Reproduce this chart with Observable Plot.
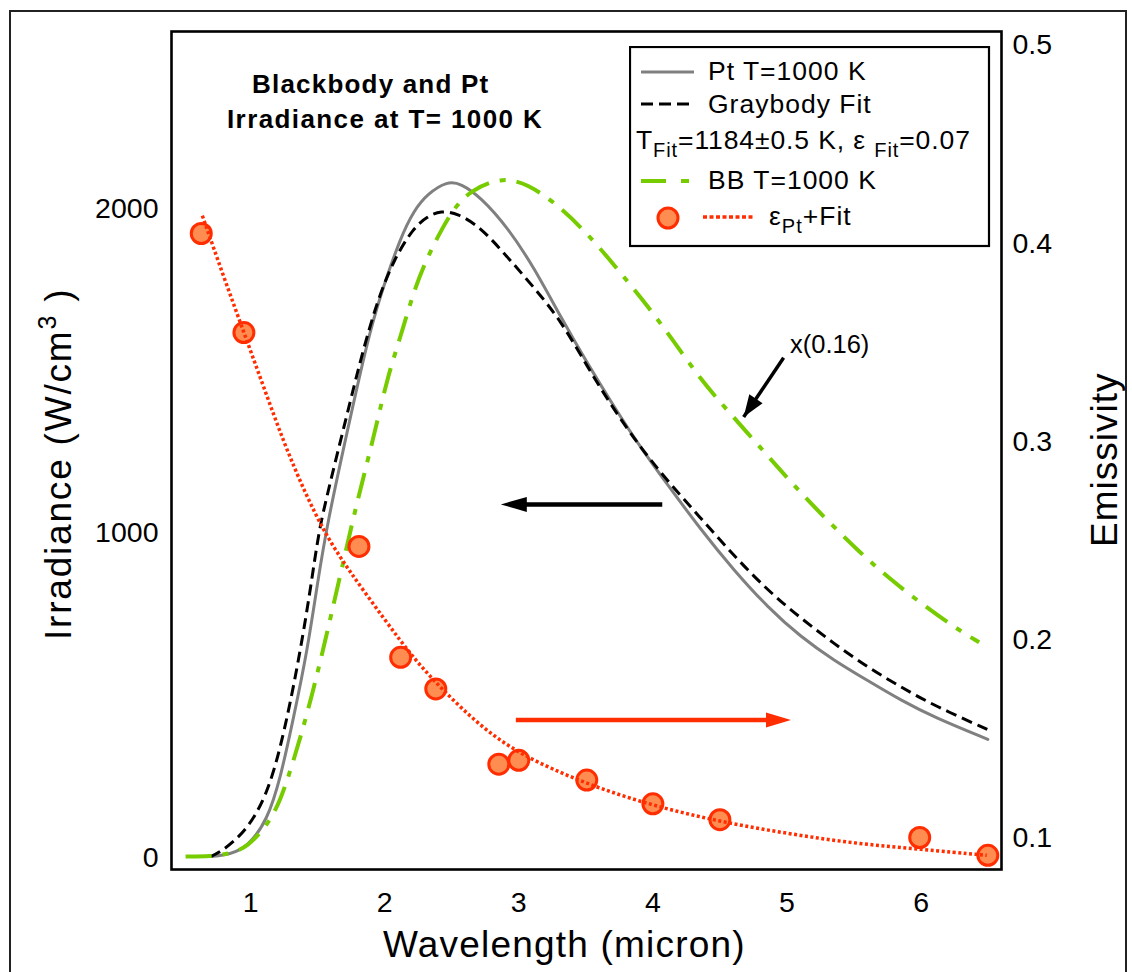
<!DOCTYPE html>
<html>
<head>
<meta charset="utf-8">
<script src="https://cdn.jsdelivr.net/npm/d3@7"></script>
<script src="https://cdn.jsdelivr.net/npm/@observablehq/plot@0.6"></script>
<style>
  body { margin: 0; background: #fff; }
  #wrap { position: relative; width: 1132px; height: 972px; overflow: hidden; background: #fff;
          font-family: "Liberation Sans", Arial, Helvetica, sans-serif; }
  #outer { position: absolute; left: 9px; top: 10px; width: 1114px; height: 1000px; border: 2px solid #222; }
  #chart { position: absolute; left: 0; top: 0; }
  #overlay, #legend { position: absolute; left: 0; top: 0; pointer-events: none; }
  #legend { left: 629px; top: 46px; }
  text { font-family: "Liberation Sans", Arial, Helvetica, sans-serif; }
</style>
</head>
<body>
<div id="wrap">
  <div id="outer"></div>
  <div id="chart"></div>
  <svg id="overlay" width="1132" height="972">
    <text x="252" y="93" font-size="26" font-weight="bold" letter-spacing="1.2">Blackbody and Pt</text>
    <text x="227" y="128" font-size="26" font-weight="bold" letter-spacing="1.4">Irradiance at T= 1000 K</text>
    <text x="383" y="957" font-size="37" letter-spacing="1.2">Wavelength (micron)</text>
    <text transform="translate(71,640) rotate(-90)" font-size="37" letter-spacing="1.8">Irradiance (W/cm<tspan dy="-15" font-size="25">3</tspan><tspan dy="15"> )</tspan></text>
    <text transform="translate(1117,547) rotate(-90)" font-size="37" letter-spacing="1">Emissivity</text>
    <text x="790" y="353" font-size="25.5">x(0.16)</text>
  </svg>
  <svg id="legend" width="362" height="202">
    <rect x="1" y="1" width="359" height="199" fill="#fff" stroke="#000" stroke-width="2.2"></rect>
    <line x1="12" x2="65" y1="26" y2="26" stroke="#808080" stroke-width="3"></line>
    <text x="79" y="34" font-size="26.5" letter-spacing="1">Pt T=1000 K</text>
    <line x1="12" x2="60" y1="58" y2="58" stroke="#000" stroke-width="3" stroke-dasharray="12,6"></line>
    <text x="79" y="67" font-size="26.5" letter-spacing="1">Graybody Fit</text>
    <text x="7" y="103" font-size="26.5" letter-spacing="0.9">T<tspan dy="8" font-size="20">Fit</tspan><tspan dy="-8">=1184±0.5 K, ε </tspan><tspan dy="8" font-size="20">Fit</tspan><tspan dy="-8">=0.07</tspan></text>
    <line x1="12" x2="60" y1="135" y2="135" stroke="#77cc00" stroke-width="4" stroke-dasharray="25,15,8,40"></line>
    <text x="79" y="143" font-size="26.5" letter-spacing="1">BB T=1000 K</text>
    <circle cx="39" cy="172" r="10" fill="#ff8c50" stroke="#ff2d00" stroke-width="3"></circle>
    <line x1="74" x2="126" y1="171" y2="171" stroke="#ff2d00" stroke-width="3.5" stroke-dasharray="4,2.5"></line>
    <text x="140" y="179" font-size="26.5" letter-spacing="1">ε<tspan dy="8" font-size="20">Pt</tspan><tspan dy="-8">+Fit</tspan></text>
  </svg>
</div>
<script>
// ---- Data ----
// Pt irradiance at T = 1000 K (W/cm^3) vs wavelength (micron)
const ptWavelength = [0.70, 0.85, 0.975, 1.125, 1.224, 1.321, 1.423, 1.498, 1.572, 1.722, 1.871, 1.970, 2.119, 2.219, 2.319, 2.468, 2.567, 2.716, 2.916, 3.112, 3.313, 3.513, 3.709, 3.910, 4.110, 4.358, 4.604, 4.856, 5.104, 5.351, 5.602, 5.851, 6.097, 6.498];
const ptIrradiance = [3, 10, 32, 114, 247, 432, 638, 844, 1030, 1316, 1593, 1735, 1912, 1994, 2045, 2084, 2077, 2035, 1942, 1819, 1665, 1521, 1390, 1262, 1148, 1010, 885, 771, 679, 607, 545, 484, 432, 364];

// Graybody fit
const fitWavelength = [0.70, 0.776, 0.975, 1.125, 1.224, 1.321, 1.423, 1.498, 1.545, 1.722, 1.833, 1.945, 2.070, 2.219, 2.319, 2.418, 2.543, 2.716, 2.916, 3.112, 3.313, 3.513, 3.709, 3.910, 4.110, 4.358, 4.604, 4.856, 5.104, 5.351, 5.602, 5.851, 6.097, 6.498];
const fitIrradiance = [3, 16, 83, 197, 340, 525, 761, 977, 1075, 1370, 1555, 1715, 1845, 1942, 1975, 1993, 1985, 1942, 1850, 1757, 1655, 1511, 1380, 1262, 1160, 1045, 930, 823, 737, 659, 586, 525, 468, 394];

// Blackbody T = 1000 K, scaled x(0.16)
const bbWavelength = [0.515, 0.701, 0.851, 0.975, 1.125, 1.224, 1.321, 1.423, 1.522, 1.597, 1.694, 1.784, 1.918, 2.020, 2.119, 2.216, 2.319, 2.418, 2.515, 2.642, 2.866, 3.065, 3.313, 3.560, 3.761, 3.960, 4.157, 4.358, 4.557, 4.856, 5.052, 5.304, 5.552, 5.751, 6.0, 6.246, 6.433];
const bbIrradiance = [3, 3, 12, 32, 99, 176, 299, 444, 607, 741, 915, 1079, 1295, 1480, 1605, 1745, 1850, 1930, 2000, 2056, 2096, 2077, 2004, 1901, 1800, 1700, 1590, 1472, 1377, 1238, 1146, 1037, 937, 864, 783, 710, 663];

// Pt emissivity measurements and fit
const emisWavelength = [0.632, 0.950, 1.808, 2.119, 2.381, 2.851, 3.0, 3.507, 4.0, 4.5, 5.99, 6.498];
const emisValue = [0.405, 0.355, 0.247, 0.191, 0.175, 0.137, 0.139, 0.129, 0.117, 0.109, 0.100, 0.091];
const emisFitWavelength = [0.64, 0.80, 0.95, 1.10, 1.25, 1.40, 1.55, 1.72, 2.00, 2.22, 2.44, 2.70, 3.00, 3.50, 4.00, 4.50, 5.00, 5.50, 6.00, 6.49];
const emisFitValue = [0.414, 0.383, 0.355, 0.327, 0.299, 0.275, 0.254, 0.236, 0.210, 0.190, 0.174, 0.157, 0.142, 0.127, 0.116, 0.108, 0.102, 0.097, 0.094, 0.091];

// Axis ticks
const xTicks = [1, 2, 3, 4, 5, 6];
const irrTicks = [0, 1000, 2000];
const emisTicks = [0.1, 0.2, 0.3, 0.4, 0.5];

// Annotation arrows (data coordinates, irradiance units)
const arrowX1 = [4.07, 2.978, 4.975];
const arrowX2 = [2.866, 5.03, 4.677];
const arrowY1 = [1088, 424, 1540];
const arrowY2 = [1088, 424, 1357];

// ---- Scales / mapping ----
const W = 1132, H = 972;
const mL = 171, mR = 131, mT = 31, mB = 103;
const xDomain = [0.41, 6.60];
const yDomain = [-37, 2545];
// secondary (emissivity) axis mapped onto the irradiance scale
const toIrr = e => 61.6 + (e - 0.1) * 6101.7;
const fromIrr = v => 0.1 + (v - 61.6) / 6101.7;

const sx = d3.scaleLinear(xDomain, [mL, W - mR]);
const sy = d3.scaleLinear(yDomain, [H - mB, mT]);
function angleOf(i) {
  const dx = sx(arrowX2[i]) - sx(arrowX1[i]);
  const dy = sy(arrowY2[i]) - sy(arrowY1[i]);
  return Math.atan2(dx, -dy) * 180 / Math.PI;
}
function head(L, w) {
  return { draw(ctx) { ctx.moveTo(0, 0); ctx.lineTo(w, L); ctx.lineTo(-w, L); ctx.closePath(); } };
}

const red = "#ff2d00";
const green = "#77cc00";

const plot = Plot.plot({
  width: W, height: H,
  marginLeft: mL, marginRight: mR, marginTop: mT, marginBottom: mB,
  style: { fontFamily: "Liberation Sans, Arial, Helvetica, sans-serif", fontSize: "28.5px", color: "#000", background: "transparent" },
  x: { domain: xDomain },
  y: { domain: yDomain },
  marks: [
    Plot.axisX({ ticks: xTicks, tickFormat: d => String(d), tickSize: 0, tickPadding: 22, label: null, fontSize: 28.5 }),
    Plot.axisY({ anchor: "left", ticks: irrTicks, tickFormat: d => String(d), tickSize: 0, tickPadding: 13, label: null, fontSize: 28.5 }),
    Plot.axisY({ anchor: "right", ticks: emisTicks.map(toIrr), tickFormat: v => fromIrr(v).toFixed(1), tickSize: 0, tickPadding: 11, label: null, fontSize: 28.5 }),
    Plot.line(ptIrradiance, { x: ptWavelength, y: ptIrradiance, stroke: "#808080", strokeWidth: 3, curve: "basis" }),
    Plot.line(fitIrradiance, { x: fitWavelength, y: fitIrradiance, stroke: "#000", strokeWidth: 3, strokeDasharray: "11,6", strokeLinecap: "butt", curve: "basis" }),
    Plot.line(bbIrradiance, { x: bbWavelength, y: bbIrradiance, stroke: green, strokeWidth: 4, strokeDasharray: "26,11,6,11", strokeLinecap: "butt", curve: "basis" }),
    Plot.dot(emisValue, { x: emisWavelength, y: emisValue.map(toIrr), r: 10, fill: "#ff8c50", stroke: red, strokeWidth: 3 }),
    Plot.line(emisFitValue, { x: emisFitWavelength, y: emisFitValue.map(toIrr), stroke: red, strokeWidth: 3.5, strokeDasharray: "3,2.5", strokeLinecap: "butt", curve: "basis" }),
    // arrows: shafts + filled heads
    Plot.link([0], { x1: d => arrowX1[d], y1: d => arrowY1[d], x2: d => arrowX2[d] + 0.1, y2: d => arrowY2[d], stroke: "#000", strokeWidth: 4.5 }),
    Plot.dot([0], { x: d => arrowX2[d], y: d => arrowY2[d], symbol: head(26, 7.5), r: 10, fill: "#000", stroke: "none", rotate: angleOf(0) }),
    Plot.link([1], { x1: d => arrowX1[d], y1: d => arrowY1[d], x2: d => arrowX2[d] - 0.1, y2: d => arrowY2[d], stroke: red, strokeWidth: 4.5 }),
    Plot.dot([1], { x: d => arrowX2[d], y: d => arrowY2[d], symbol: head(25, 7.5), r: 10, fill: red, stroke: "none", rotate: angleOf(1) }),
    Plot.link([2], { x1: d => arrowX1[d], y1: d => arrowY1[d], x2: d => arrowX2[d], y2: d => arrowY2[d], stroke: "#000", strokeWidth: 3.5 }),
    Plot.dot([2], { x: d => arrowX2[d], y: d => arrowY2[d], symbol: head(22, 8), r: 10, fill: "#000", stroke: "none", rotate: angleOf(2) }),
    Plot.frame({ stroke: "#000", strokeWidth: 2.6 })
  ]
});
document.getElementById("chart").appendChild(plot);
</script>
</body>
</html>
